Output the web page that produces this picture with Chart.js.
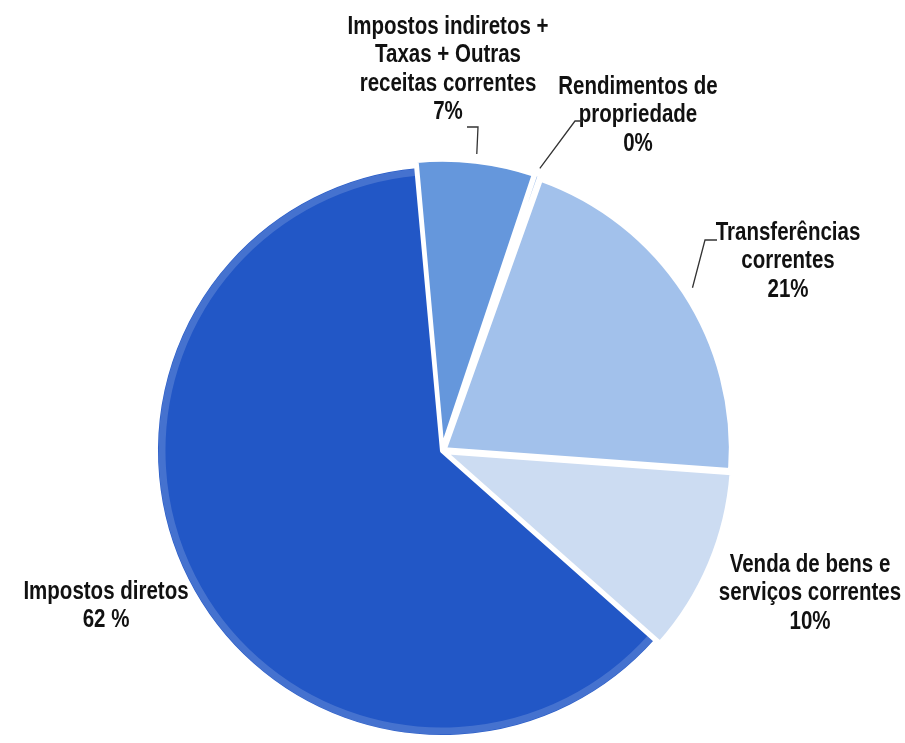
<!DOCTYPE html>
<html>
<head>
<meta charset="utf-8">
<script src="https://cdn.jsdelivr.net/npm/chart.js@4.4.1/dist/chart.umd.min.js"></script>
<style>
  html, body { margin: 0; padding: 0; background: #fff; }
  #pieChart { display: block; }
</style>
</head>
<body>
<canvas id="pieChart" width="905" height="743"></canvas>
<script>
  // data (clockwise from top)
  const categories = [
    ['Impostos indiretos +', 'Taxas + Outras', 'receitas correntes'],
    ['Rendimentos de', 'propriedade'],
    ['Transferências', 'correntes'],
    ['Venda de bens e', 'serviços correntes'],
    ['Impostos diretos']
  ];
  const shares = [6.6, 0.3, 20.7, 10.4, 62.0];
  const pctLabels = ['7%', '0%', '21%', '10%', '62 %'];

  const colors = ['#6597dc', '#85ade6', '#a2c1eb', '#ccdcf2', '#2257c6'];

  // label placement (text centre x, first line y, optional leader elbow)
  const labelPos = [
    { x: 448, y: 27, elbow: [[467, 127], [478, 127]] },
    { x: 638, y: 87, elbow: [[582, 121], [575, 121]] },
    { x: 788, y: 233, elbow: [[717, 240], [705, 240]] },
    { x: 810, y: 565 },
    { x: 106, y: 592 }
  ];

  // soft rim highlight, like the bevel in the original
  const bevel = {
    id: 'bevel',
    afterDatasetsDraw(chart) {
      const c = chart.ctx;
      chart.getDatasetMeta(0).data.forEach(arc => {
        if (arc.endAngle - arc.startAngle < 0.05) return;
        const off = arc.options.offset || 0;
        const mid = (arc.startAngle + arc.endAngle) / 2;
        const cx = arc.x + Math.cos(mid) * off;
        const cy = arc.y + Math.sin(mid) * off;
        const r = arc.outerRadius;
        c.save();
        c.beginPath();
        c.moveTo(cx, cy);
        c.arc(cx, cy, r - 2, arc.startAngle, arc.endAngle);
        c.closePath();
        c.clip();
        c.beginPath();
        c.arc(cx, cy, r - 6, arc.startAngle, arc.endAngle);
        c.strokeStyle = 'rgba(255,255,255,0.16)';
        c.lineWidth = 7;
        c.stroke();
        c.restore();
      });
    }
  };

  const pieLabels = {
    id: 'pieLabels',
    afterDatasetsDraw(chart) {
      const c = chart.ctx;
      const arcs = chart.getDatasetMeta(0).data;
      arcs.forEach((arc, i) => {
        const p = labelPos[i];
        const lines = categories[i].concat([pctLabels[i]]);
        c.save();
        c.font = 'bold 25px "Liberation Sans", Arial, sans-serif';
        c.fillStyle = '#111';
        c.textAlign = 'center';
        c.textBaseline = 'middle';
        c.translate(p.x, 0);
        c.scale(0.82, 1);
        lines.forEach((t, k) => c.fillText(t, 0, p.y + k * 28.4));
        c.restore();
        if (p.elbow) {
          const mid = (arc.startAngle + arc.endAngle) / 2;
          const r = arc.outerRadius + (arc.options.offset || 0);
          const ax = arc.x + Math.cos(mid) * r;
          const ay = arc.y + Math.sin(mid) * r;
          c.save();
          c.beginPath();
          c.strokeStyle = '#333';
          c.lineWidth = 1.3;
          c.moveTo(p.elbow[0][0], p.elbow[0][1]);
          c.lineTo(p.elbow[1][0], p.elbow[1][1]);
          c.lineTo(ax, ay);
          c.stroke();
          c.restore();
        }
      });
    }
  };

  const ctx = document.getElementById('pieChart').getContext('2d');

  new Chart(ctx, {
    type: 'pie',
    data: {
      labels: categories.map(l => l.join(' ')),
      datasets: [{
        data: shares,
        backgroundColor: colors,
        borderColor: '#ffffff',
        borderWidth: 4,
        offset: [13, 13, 13, 13, 0],
        radius: 286
      }]
    },
    options: {
      responsive: false,
      animation: false,
      rotation: -5.2,
      layout: { padding: { left: 0, right: 21, top: 159, bottom: 0 } },
      plugins: {
        legend: { display: false },
        tooltip: { enabled: false }
      }
    },
    plugins: [bevel, pieLabels]
  });
</script>
</body>
</html>
